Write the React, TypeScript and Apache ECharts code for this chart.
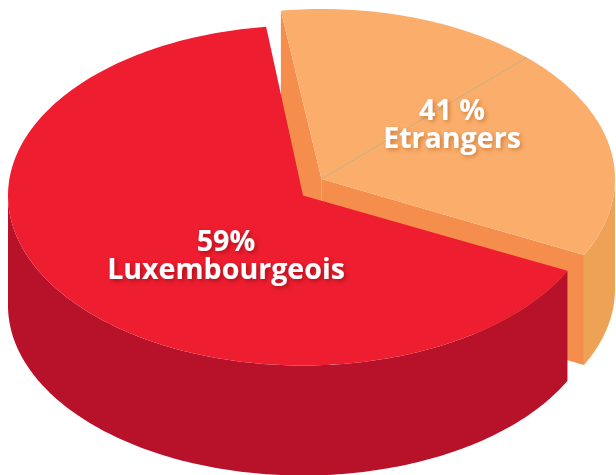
import React, { useEffect, useRef } from "react";
import * as echarts from "echarts";

// Data
const categories = ["Etrangers", "Luxembourgeois"];
const valueLabels = ["41 %", "59%"];
const shares = [41, 59];
// The reference's slices are not drawn to scale: these are the shares of the turn
// that the two slices really occupy on the picture.
const drawnShares = [34.6, 65.7];

const WIDTH = 616;
const HEIGHT = 475;
const DEPTH = 110;
const RAD = Math.PI / 180;
const RED_START = 26.3;
const ORANGE_END = 26.6;

const RED = { cx: 303, cy: 195.5, rx: 295, ry: 170 };
const ORANGE = { cx: 321.5, cy: 179, rx: 293.5, ry: 170 };

type P = [number, number];
const rim = (e: typeof RED, deg: number, dy = 0): P => [
  e.cx + e.rx * Math.cos(deg * RAD),
  e.cy + e.ry * Math.sin(deg * RAD) + dy,
];
const arc = (e: typeof RED, from: number, to: number, dy = 0): P[] => {
  const n = Math.max(2, Math.ceil(Math.abs(to - from)));
  const out: P[] = [];
  for (let i = 0; i <= n; i++) out.push(rim(e, from + ((to - from) * i) / n, dy));
  return out;
};
const poly = (points: P[], fill: string) => ({
  type: "polygon",
  shape: { points },
  style: { fill },
});
const label = (text: string, x: number, y: number, shadow: string) => ({
  type: "text",
  style: {
    text,
    x,
    y,
    fill: "#ffffff",
    font: `700 28.6px "Open Sans"`,
    lineHeight: 28,
    textAlign: "center",
    textVerticalAlign: "top",
    textShadowBlur: 4,
    textShadowOffsetX: 2,
    textShadowOffsetY: 2,
    textShadowColor: shadow,
  },
});

function renderSlice(params: any) {
  const sweep = (drawnShares[params.dataIndex] / 100) * 360;
  if (params.dataIndex === 0) {
    const start = ORANGE_END - sweep;
    const corner = rim(ORANGE, start);
    const tip = rim(ORANGE, ORANGE_END);
    const apex: P = [ORANGE.cx, ORANGE.cy];
    const lineEnd = rim(ORANGE, -45.6);
    return {
      type: "group",
      children: [
        poly(
          [...arc(ORANGE, 0, ORANGE_END), ...arc(ORANGE, ORANGE_END, 0, DEPTH)],
          "#EEA256"
        ),
        poly(
          [apex, tip, [tip[0], tip[1] + DEPTH], [apex[0], apex[1] + DEPTH]],
          "#F58E4C"
        ),
        poly(
          [corner, apex, [apex[0], apex[1] + DEPTH], [corner[0], corner[1] + DEPTH]],
          "#F58E4C"
        ),
        poly([apex, ...arc(ORANGE, start, ORANGE_END)], "#FBAE6B"),
        {
          type: "line",
          shape: { x1: apex[0], y1: apex[1], x2: lineEnd[0], y2: lineEnd[1] },
          style: { stroke: "#A9B38F", lineWidth: 0.7 },
        },
        {
          type: "line",
          shape: { x1: apex[0], y1: apex[1], x2: apex[0], y2: apex[1] + 20 },
          style: { stroke: "#E9A76A", lineWidth: 0.6 },
        },
        label(`${valueLabels[0]}\n${categories[0]}`, 452, 94.5, "rgba(150,70,0,0.45)"),
      ],
    };
  }
  const apex: P = [RED.cx, RED.cy];
  const end = RED_START + sweep;
  return {
    type: "group",
    children: [
      poly([...arc(RED, RED_START, 180), ...arc(RED, 180, RED_START, DEPTH)], "#B8122A"),
      poly([apex, ...arc(RED, RED_START, end)], "#EE1D2F"),
      label(`${valueLabels[1]}\n${categories[1]}`, 226, 225.5, "rgba(90,0,0,0.45)"),
    ],
  };
}

export default function App() {
  const ref = useRef<HTMLDivElement>(null);
  useEffect(() => {
    const chart = echarts.init(ref.current!, undefined, { renderer: "svg" });
    chart.setOption({
      animation: false,
      backgroundColor: "#ffffff",
      series: [
        {
          type: "custom",
          coordinateSystem: "none",
          silent: true,
          data: categories.map((name, i) => ({ name, value: shares[i] })),
          renderItem: renderSlice,
        },
      ],
    });
    return () => chart.dispose();
  }, []);
  return (
    <div
      ref={ref}
      style={{ position: "fixed", left: 0, top: 0, width: WIDTH, height: HEIGHT }}
    />
  );
}
